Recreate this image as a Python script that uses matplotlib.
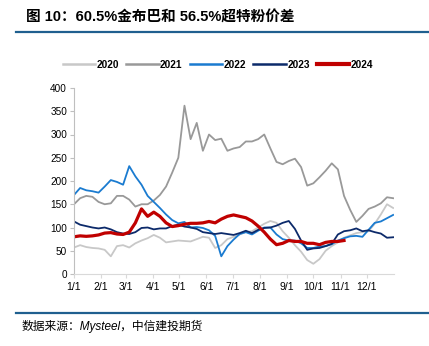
import numpy as np
import matplotlib
matplotlib.use("Agg")
import matplotlib.pyplot as plt

plt.rcParams['font.family'] = ['Liberation Sans', 'Noto Sans CJK SC', 'DejaVu Sans']

# weekly samples, day of year
days = np.arange(0, 365, 7)

s2020 = [57, 62, 58, 56, 55, 52, 38, 60, 62, 57, 66, 72, 77, 84, 78, 68, 70, 72, 71, 70,
         75, 80, 78, 56, 62, 75, 80, 85, 90, 92, 100, 108, 114, 110, 92, 78, 62, 48, 30, 22,
         32, 50, 60, 68, 78, 83, 88, 90, 92, 108, 128, 150, 142]
s2021 = [150, 163, 168, 166, 155, 150, 152, 168, 168, 160, 145, 150, 150, 158, 170, 188, 218, 250, 362, 290,
         325, 265, 300, 288, 291, 265, 270, 273, 285, 285, 290, 300, 270, 241, 236, 243, 248, 230, 190, 195,
         208, 222, 238, 225, 168, 138, 112, 125, 140, 145, 152, 165, 163]
s2022 = [170, 185, 180, 178, 175, 188, 202, 198, 192, 232, 210, 192, 168, 155, 142, 128, 116, 109, 112, 100,
         101, 99, 94, 82, 38, 60, 74, 86, 90, 85, 93, 100, 100, 85, 75, 72, 72, 66, 56, 56,
         59, 60, 64, 72, 77, 81, 82, 80, 95, 110, 113, 120, 127]
s2023 = [113, 106, 103, 100, 98, 100, 96, 90, 87, 86, 90, 99, 100, 96, 98, 98, 103, 106, 102, 100,
         97, 90, 88, 86, 88, 86, 84, 88, 93, 88, 95, 99, 100, 104, 110, 114, 97, 72, 52, 55,
         56, 60, 65, 85, 92, 94, 98, 92, 94, 90, 87, 78, 79]
s2024 = [80, 82, 81, 82, 84, 88, 89, 86, 85, 90, 110, 140, 124, 133, 124, 110, 102, 104, 107, 109,
         109, 110, 113, 110, 118, 124, 127, 124, 121, 114, 103, 90, 75, 63, 66, 72, 70, 70, 66, 66,
         63, 68, 70, 70, 72]

years = ['2020', '2021', '2022', '2023', '2024']
series = [s2020, s2021, s2022, s2023, s2024]
colors = ['#c8c8c8', '#999999', '#1a7bd0', '#0c2a6a', '#c00000']
widths = [1.3, 1.3, 1.3, 1.3, 2.3]

month_days = [0, 31, 59, 90, 120, 151, 181, 212, 243, 273, 304, 334]
month_labels = ['1/1', '2/1', '3/1', '4/1', '5/1', '6/1', '7/1', '8/1', '9/1', '10/1', '11/1', '12/1']

fig = plt.figure(figsize=(4.29, 3.46), dpi=100)
ax = fig.add_axes([74 / 429, 72 / 346, 320 / 429, 186 / 346])

for name, vals, c, w in zip(years, series, colors, widths):
    ax.plot(days[:len(vals)], vals, color=c, linewidth=w, label=name)

ax.set_xlim(0, 365)
ax.set_ylim(0, 400)
ax.set_yticks(np.arange(0, 401, 50))
ax.set_xticks(month_days)
ax.set_xticklabels(month_labels)
ax.tick_params(axis='y', labelsize=7.2, length=3, color='#bfbfbf', pad=2)
ax.tick_params(axis='x', labelsize=7.5, length=3, color='#d9d9d9', pad=3)
for s in ['top', 'right']:
    ax.spines[s].set_visible(False)
ax.spines['left'].set_color('#bfbfbf')
ax.spines['bottom'].set_color('#d9d9d9')

leg = fig.legend(loc='center', bbox_to_anchor=(0.508, 1 - 65 / 346), ncol=5, frameon=False,
                 prop={'size': 7.3, 'weight': 'bold'}, handlelength=3.2,
                 handletextpad=0.15, columnspacing=0.7)
for line in leg.get_lines()[:4]:
    line.set_linewidth(1.8)
leg.get_lines()[4].set_linewidth(3.0)

fig.text(26 / 429, 1 - 18 / 346, '图 10：60.5%金布巴和 56.5%超特粉价差', fontsize=10.5,
         fontweight='bold', va='center', ha='left')
fig.add_artist(plt.Line2D([16 / 429, 1], [1 - 32 / 346] * 2, color='#1f5f8f', linewidth=1.6))
fig.add_artist(plt.Line2D([16 / 429, 1], [1 - 313 / 346] * 2, color='#1f5f8f', linewidth=1.6))
fig.text(22 / 429, 1 - 326 / 346, '数据来源：Mysteel，中信建投期货', fontsize=8.5,
         style='italic', va='center', ha='left')

fig.savefig('out.png', dpi=100)
